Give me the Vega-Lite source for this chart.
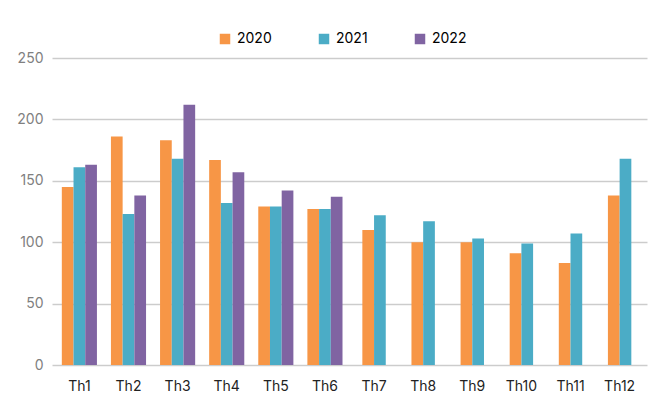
{
  "$schema": "https://vega.github.io/schema/vega-lite/v6.json",
  "width": 595,
  "height": 307,
  "autosize": {"type": "none"},
  "padding": {"left": 52, "top": 58, "right": 17, "bottom": 46},
  "background": "white",
  "config": {
    "view": {"stroke": null},
    "font": "Inter",
    "axis": {"zindex": 1}
  },
  "data": {
    "values": [
      {"month": "Th1", "year": "2020", "value": 145},
      {"month": "Th1", "year": "2021", "value": 161},
      {"month": "Th1", "year": "2022", "value": 163},
      {"month": "Th2", "year": "2020", "value": 186},
      {"month": "Th2", "year": "2021", "value": 123},
      {"month": "Th2", "year": "2022", "value": 138},
      {"month": "Th3", "year": "2020", "value": 183},
      {"month": "Th3", "year": "2021", "value": 168},
      {"month": "Th3", "year": "2022", "value": 212},
      {"month": "Th4", "year": "2020", "value": 167},
      {"month": "Th4", "year": "2021", "value": 132},
      {"month": "Th4", "year": "2022", "value": 157},
      {"month": "Th5", "year": "2020", "value": 129},
      {"month": "Th5", "year": "2021", "value": 129},
      {"month": "Th5", "year": "2022", "value": 142},
      {"month": "Th6", "year": "2020", "value": 127},
      {"month": "Th6", "year": "2021", "value": 127},
      {"month": "Th6", "year": "2022", "value": 137},
      {"month": "Th7", "year": "2020", "value": 110},
      {"month": "Th7", "year": "2021", "value": 122},
      {"month": "Th8", "year": "2020", "value": 100},
      {"month": "Th8", "year": "2021", "value": 117},
      {"month": "Th9", "year": "2020", "value": 100},
      {"month": "Th9", "year": "2021", "value": 103},
      {"month": "Th10", "year": "2020", "value": 91},
      {"month": "Th10", "year": "2021", "value": 99},
      {"month": "Th11", "year": "2020", "value": 83},
      {"month": "Th11", "year": "2021", "value": 107},
      {"month": "Th12", "year": "2020", "value": 138},
      {"month": "Th12", "year": "2021", "value": 168}
    ]
  },
  "encoding": {
    "x": {
      "field": "month", "type": "nominal",
      "sort": ["Th1","Th2","Th3","Th4","Th5","Th6","Th7","Th8","Th9","Th10","Th11","Th12"],
      "scale": {"domain": ["Th1","Th2","Th3","Th4","Th5","Th6","Th7","Th8","Th9","Th10","Th11","Th12"], "paddingInner": 0.285, "paddingOuter": 0.2},
      "axis": {"title": null, "labelAngle": 0, "ticks": false, "domain": false, "labelFontSize": 14, "labelColor": "#222222", "labelPadding": 14}
    },
    "y": {
      "field": "value", "type": "quantitative",
      "scale": {"domain": [0, 250], "nice": false},
      "axis": {"title": null, "values": [0, 50, 100, 150, 200, 250], "ticks": false, "domain": false, "labelFontSize": 14, "labelColor": "#808080", "labelPadding": 9, "gridColor": "#000000", "gridOpacity": 0.2, "gridWidth": 1.3}
    },
    "color": {
      "field": "year", "type": "nominal",
      "scale": {"domain": ["2020", "2021", "2022"], "range": ["#f79646", "#4bacc6", "#8064a2"]},
      "legend": {"title": null, "orient": "none", "legendX": 166, "legendY": -26, "direction": "horizontal", "symbolType": "square", "symbolSize": 110, "symbolStrokeWidth": 0, "symbolOpacity": 1, "labelFontSize": 14, "labelColor": "#000000", "labelOffset": 5, "columnPadding": 45}
    }
  },
  "layer": [
    {
      "transform": [{"filter": {"field": "month", "oneOf": ["Th1","Th2","Th3","Th4","Th5","Th6"]}}],
      "mark": {"type": "bar", "opacity": 1},
      "encoding": {
        "xOffset": {"field": "year", "type": "nominal", "scale": {"domain": ["2020","2021","2022"], "paddingInner": 0, "paddingOuter": 0}}
      }
    },
    {
      "transform": [{"filter": {"field": "month", "oneOf": ["Th7","Th8","Th9","Th10","Th11","Th12"]}}],
      "mark": {"type": "bar", "opacity": 1},
      "encoding": {
        "xOffset": {"field": "year", "type": "nominal", "scale": {"domain": ["2020","2021"], "paddingInner": 0, "paddingOuter": 0.5}}
      }
    }
  ],
  "resolve": {"scale": {"xOffset": "independent"}}
}
